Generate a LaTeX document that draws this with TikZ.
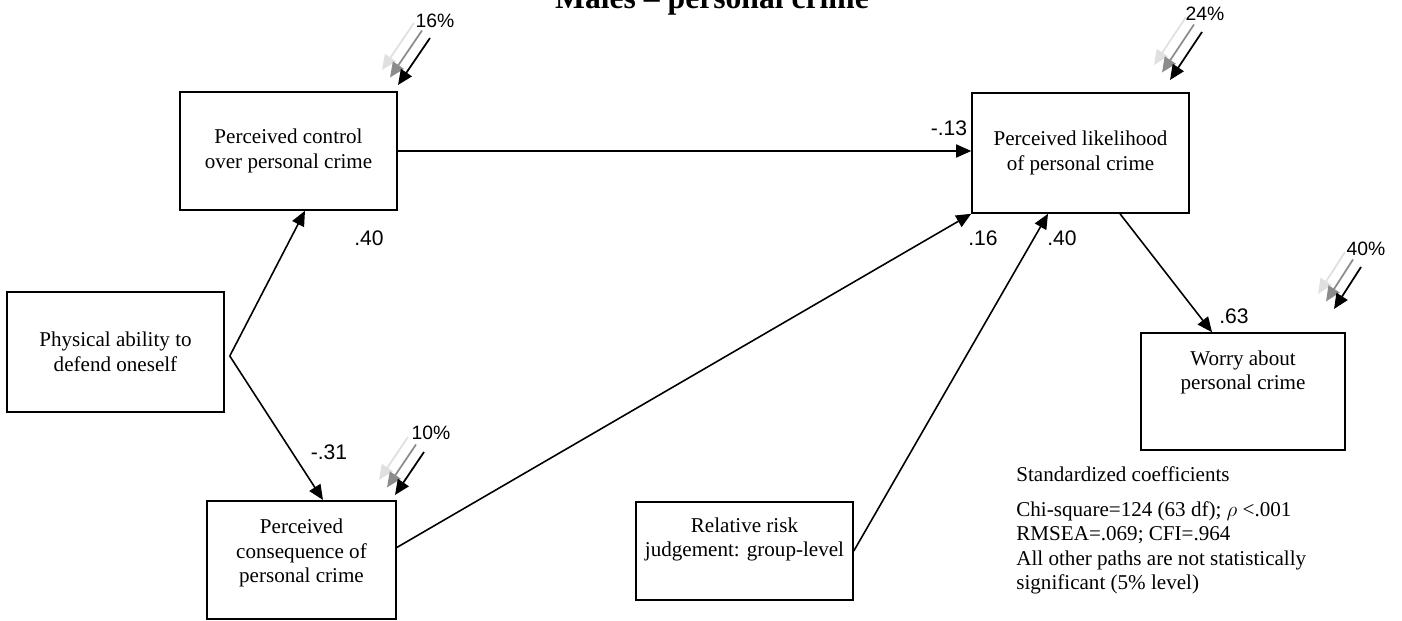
\documentclass[tikz,border=0pt]{standalone}
\usepackage{fontspec}
\setmainfont{Liberation Serif}
\setsansfont{Liberation Sans}
\usetikzlibrary{arrows.meta,positioning}

\tikzset{
  box/.style={draw, line width=0.9pt, align=center, inner sep=0pt, font=\fontsize{12}{14.2}\selectfont},
  toptext/.style={anchor=north, align=center, inner sep=0pt, font=\fontsize{12}{13.8}\selectfont},
  link/.style={-{Triangle[length=3mm,width=2.6mm]}, line width=0.9pt},
  errarr/.style={-{Triangle[length=3mm,width=2.6mm]}, line width=1pt},
  coef/.style={font=\sffamily\fontsize{12}{14}\selectfont, inner sep=1pt},
  pct/.style={font=\sffamily\fontsize{11}{13}\selectfont, inner sep=1pt}
}

\begin{document}
\begin{tikzpicture}[x=0.02cm, y=-0.02cm]
    \useasboundingbox (0,0) rectangle (1402,621);

    \node[font=\bfseries\fontsize{18}{20}\selectfont, anchor=base] (title) at (712,9) {Males -- personal crime};

    % variables
    \node[box, minimum width=4.34cm, minimum height=2.36cm] (control) at (288.5,151) {Perceived control\\over personal crime};
    \node[box, minimum width=4.34cm, minimum height=2.4cm] (likelihood) at (1080.5,153) {Perceived likelihood\\of personal crime};
    \node[box, minimum width=4.34cm, minimum height=2.4cm] (physical) at (115.5,352) {Physical ability to\\defend oneself};
    \node[box, minimum width=3.78cm, minimum height=2.37cm, label={[toptext, yshift=-0.38cm]north:{Perceived\\consequence of\\personal crime}}] (consequence) at (301.5,560) {};
    \node[box, minimum width=4.08cm, minimum height=2.34cm, label={[toptext, yshift=-0.36cm]north:{Worry about\\personal crime}}] (worry) at (1243,391.5) {};
    \node[box, minimum width=4.34cm, minimum height=1.96cm, label={[toptext, yshift=-0.32cm]north:{Relative risk\\judgement: group-level}}] (relative) at (744.5,551) {};

    % paths
    \coordinate (fork) at ([xshift=0.1cm, yshift=-0.08cm]physical.east);
    \draw[link] (fork) -- ([xshift=0.33cm]control.south);
    \draw[link] (fork) -- ([xshift=0.43cm]consequence.north);
    \draw[link] (control.east) -- (control.east -| likelihood.west);
    \draw[link] ([yshift=0.25cm]consequence.east) -- (likelihood.south west);
    \draw[link] (relative.east) -- ([xshift=-0.65cm]likelihood.south);
    \draw[link] ([xshift=0.79cm]likelihood.south) -- ([xshift=-0.62cm]worry.north);

    \node[coef] (c1) at (369,238) {.40};
    \node[coef] (c2) at (329,452) {-.31};
    \node[coef] (c3) at (949,128) {-.13};
    \node[coef] (c4) at (983,238) {.16};
    \node[coef] (c5) at (1062,238) {.40};
    \node[coef] (c6) at (1234,316) {.63};

    % residuals
    \coordinate (e1) at (430,38);
    \draw[errarr, black!12] ([shift={(-16,-15)}]e1) -- +(-32,47);
    \draw[errarr, black!45] ([shift={(-8,-7.5)}]e1) -- +(-32,47);
    \draw[errarr] (e1) -- +(-32,47);
    \node[pct] (r1) at ([shift={(5,-17)}]e1) {16\%};

    \coordinate (e2) at (1202,32);
    \draw[errarr, black!12] ([shift={(-16,-15)}]e2) -- +(-32,48);
    \draw[errarr, black!45] ([shift={(-8,-7.5)}]e2) -- +(-32,48);
    \draw[errarr] (e2) -- +(-32,48);
    \node[pct] (r2) at ([shift={(3,-18)}]e2) {24\%};

    \coordinate (e3) at (1361,267);
    \draw[errarr, black!12] ([shift={(-16,-15)}]e3) -- +(-27,42);
    \draw[errarr, black!45] ([shift={(-8,-7.5)}]e3) -- +(-27,42);
    \draw[errarr] (e3) -- +(-27,42);
    \node[pct] (r3) at ([shift={(5,-18)}]e3) {40\%};

    \coordinate (e4) at (424,452);
    \draw[errarr, black!12] ([shift={(-16,-15)}]e4) -- +(-29,43);
    \draw[errarr, black!45] ([shift={(-8,-7.5)}]e4) -- +(-29,43);
    \draw[errarr] (e4) -- +(-29,43);
    \node[pct] (r4) at ([shift={(7,-19)}]e4) {10\%};

    \node[anchor=north west, align=left, inner sep=0pt, font=\fontsize{12}{13.9}\selectfont] (stats) at (1016,466) {Standardized coefficients\\[6pt]Chi-square=124 (63 df); {\large$\rho$} <.001\\RMSEA=.069; CFI=.964\\All other paths are not statistically\\significant (5\% level)};
\end{tikzpicture}
\end{document}
